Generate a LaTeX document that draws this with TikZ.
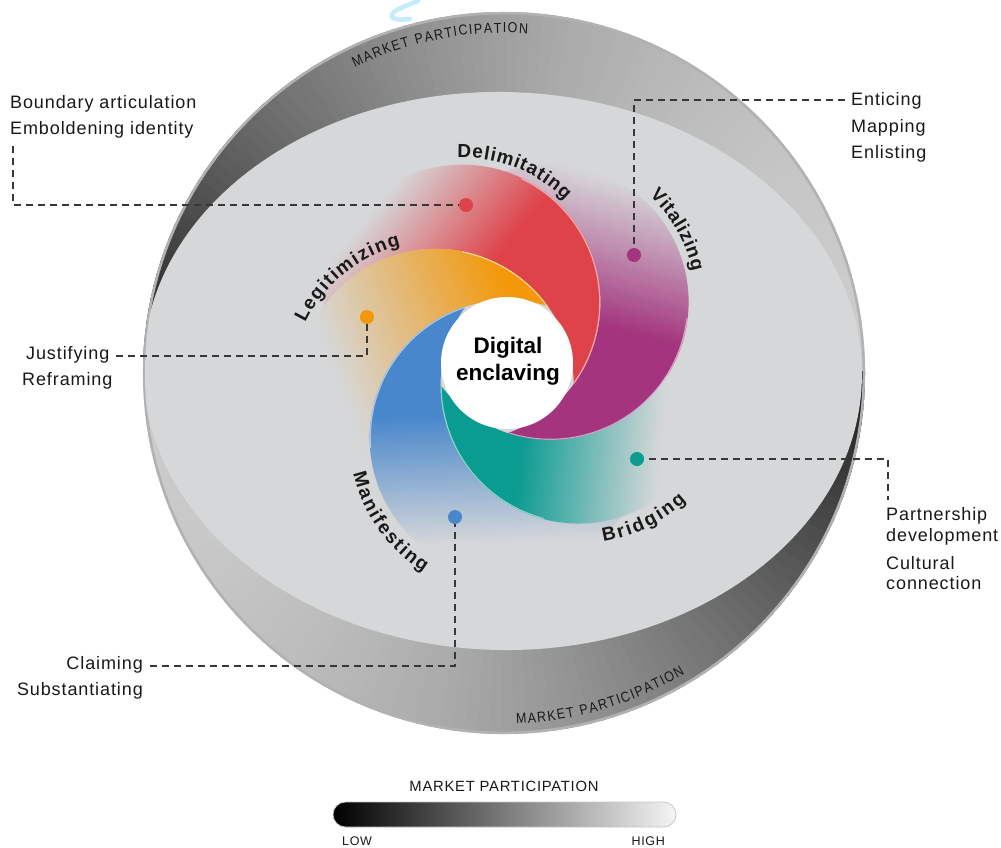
\documentclass[tikz,border=0pt]{standalone}
\usepackage{fontspec}
\setmainfont{Liberation Sans}
\newfontfamily\lblfam[LetterSpace=5]{Liberation Sans}
\newfontfamily\condfam[FakeStretch=0.86]{Liberation Sans}
\usetikzlibrary{calc,decorations.text}
\definecolor{bg}{RGB}{214,215,217}
\definecolor{cred}{RGB}{222,67,74}
\definecolor{corange}{RGB}{243,152,10}
\definecolor{cpurple}{RGB}{163,52,125}
\definecolor{cteal}{RGB}{10,155,145}
\definecolor{cblue}{RGB}{72,135,203}
\definecolor{dashcol}{RGB}{55,55,55}
\definecolor{txt}{RGB}{25,25,25}
\definecolor{cyanmark}{RGB}{196,236,250}
\newcommand\armfont{\bfseries\fontsize{19}{19}\selectfont}
\newcommand\bandfont{\condfam\fontsize{14.5}{14.5}\selectfont}
% crescent arm: #1 colour, #2 disk angle, #3 gradient angle, #4 p0, #5 p1
\newcommand\armshape[5]{%
\pgfmathsetmacro\rr{#3-#2}%
\begin{scope}[shift={(C)}, rotate=#2]
 \clip (154.89,112.53) arc[start angle=54.63, end angle=-162.63, radius=138]
       arc[start angle=-125.37, end angle=17.37, radius=138] -- cycle;
 \begin{scope}[rotate=\rr]
  \fill[#1] (-420,-420) rectangle (#4+0.8,420);
  \foreach \i in {0,...,39} {
   \pgfmathsetmacro\pp{#4+(#5-#4)*\i/40}
   \pgfmathsetmacro\qq{#4+(#5-#4)*(\i+1)/40+0.8}
   \pgfmathsetmacro\mm{100*(1-(\i+0.5)/40)}
   \fill[#1!\mm!bg] (\pp,-420) rectangle (\qq,420);
  }
  \clip (-420,-420) rectangle (#4+30,420);
  \draw[#1!45!white, line width=2.4, rotate=-\rr] (75,0) circle (138);
 \end{scope}
\end{scope}}
% #1 centre, #2 radius, #3 start, #4 end, #5 text, #6 font
\newcommand\arclabel[6]{%
 \path[decorate, decoration={text along path, text={|#6|#5}, text align={fit to path}, text color=txt}]
   ($(#1)+(#3:#2)$) arc[start angle=#3, end angle=#4, radius=#2];}
\begin{document}
\begin{tikzpicture}[x=1pt,y=1pt,
  lbl/.style={font=\lblfam\fontsize{18}{21}\selectfont, text=txt, inner sep=0pt},
  dotnode/.style={circle, fill=#1, inner sep=0pt, minimum size=14pt},
  dashline/.style={draw=dashcol, line width=1.3pt, dash pattern=on 7pt off 5pt}]
\useasboundingbox (0,0) rectangle (1001,-848);
\fill[white] (0,0) rectangle (1001,-848);
% faint light-blue mark at the top edge
\draw[cyanmark, line width=4.5, line cap=round] (418,-1) .. controls (400,-8) and (390,-12) .. (392,-17) .. controls (394,-20) and (402,-20) .. (410,-19);
\coordinate (O) at (504,-373);
\coordinate (C) at (507,-363);
% outer band with angular shading
\begin{scope}
 \clip (O) circle (361);
 \foreach \a in {0,2,...,358} {
  \pgfmathsetmacro\tt{mod(\a,180)}
  \pgfmathsetmacro\pk{20+70*(\tt/180)^2}
  \fill[black!\pk!white] (O) -- +(\a-0.3:420) -- +(\a+2.3:420) -- cycle;
 }
\end{scope}
\draw[black!30, line width=2.5] (O) circle (359.8);
% inner surface
\begin{scope}
 \clip (O) circle (359);
 \fill[bg, rotate around={-1.2:(502.5,-371)}] (502.5,-371) ellipse [x radius=359.5, y radius=279];
\end{scope}
% arm disk centres
\coordinate (Cr) at ($(C)+(126.5:75)$);
\coordinate (Co) at ($(C)+(198.5:75)$);
\coordinate (Cb) at ($(C)+(270.5:75)$);
\coordinate (Ct) at ($(C)+(342.5:75)$);
\coordinate (Cp) at ($(C)+(54.5:75)$);
% arms
\armshape{cpurple}{54.5}{75}{60}{205}
\armshape{cred}{126.5}{141}{75}{200}
\armshape{corange}{198.5}{200}{-26}{165}
\armshape{cblue}{270.5}{-88}{50}{180}
\armshape{cteal}{342.5}{-5}{20}{160}
% centre
\node[circle, fill=white, minimum size=132pt, inner sep=0pt] (core) at (C) {};
\node[font=\bfseries\fontsize{22.5}{27}\selectfont, align=center, text=black] (coretext) at (508,-361) {Digital\\enclaving};
\arclabel{Cr}{145}{92}{45}{Delimitating}{\armfont}
\arclabel{Cp}{145}{47}{12}{Vitalizing}{\armfont}
\arclabel{Ct}{158}{-81}{-47}{Bridging}{\armfont}
\arclabel{Cb}{158.5}{193}{238}{Manifesting}{\armfont}
\arclabel{Co}{145.5}{154}{104}{Legitimizing}{\armfont}
\arclabel{O}{340}{116}{86}{MARKET PARTICIPATION}{\bandfont}
\arclabel{O}{351}{-88}{-59}{MARKET PARTICIPATION}{\bandfont}
% dots and connectors
\coordinate (d1) at (466,-205);
\coordinate (d2) at (367,-317);
\coordinate (d3) at (634,-255);
\coordinate (d4) at (637,-459);
\coordinate (d5) at (455,-517);
\coordinate (s1) at (13,-146);
\coordinate (s2) at (116,-356);
\coordinate (s3) at (845,-100);
\coordinate (s4) at (888,-500);
\coordinate (s5) at (150,-666);
\draw[dashline] (s1) |- (d1);
\draw[dashline] (s2) -| (d2);
\draw[dashline] (s3) -| (d3);
\draw[dashline] (d4) -| (s4);
\draw[dashline] (s5) -| (d5);
\node[dotnode=cred] (n1) at (d1) {};
\node[dotnode=corange] (n2) at (d2) {};
\node[dotnode=cpurple] (n3) at (d3) {};
\node[dotnode=cteal] (n4) at (d4) {};
\node[dotnode=cblue] (n5) at (d5) {};
% labels
\node[lbl, anchor=base west] (t1a) at (10,-109) {Boundary articulation};
\node[lbl, anchor=base west] (t1b) at (10,-135) {Emboldening identity};
\node[lbl, anchor=base west] (t2a) at (26,-359) {Justifying};
\node[lbl, anchor=base west] (t2b) at (22,-385) {Reframing};
\node[lbl, anchor=base west] (t3a) at (851,-106) {Enticing};
\node[lbl, anchor=base west] (t3b) at (851,-132) {Mapping};
\node[lbl, anchor=base west] (t3c) at (851,-158) {Enlisting};
\node[lbl, anchor=base west] (t4a) at (886,-520) {Partnership};
\node[lbl, anchor=base west] (t4b) at (886,-541) {development};
\node[lbl, anchor=base west] (t4c) at (886,-569) {Cultural};
\node[lbl, anchor=base west] (t4d) at (886,-589) {connection};
\node[lbl, anchor=base east] (t5a) at (143,-669) {Claiming};
\node[lbl, anchor=base east] (t5b) at (143,-695) {Substantiating};
% legend
\node[font=\lblfam\fontsize{14.8}{14.8}\selectfont, text=txt, inner sep=0pt, anchor=base] (legt) at (504,-791) {MARKET PARTICIPATION};
\shade[left color=black, right color=white!96!black, draw=black!22, line width=0.8, rounded corners=12.5] (333,-802) rectangle (676,-827);
\node[font=\lblfam\fontsize{12.5}{12.5}\selectfont, text=txt, inner sep=0pt, anchor=base west] (low) at (342,-845) {LOW};
\node[font=\lblfam\fontsize{12.5}{12.5}\selectfont, text=txt, inner sep=0pt, anchor=base east] (high) at (665,-845) {HIGH};
\end{tikzpicture}
\end{document}
